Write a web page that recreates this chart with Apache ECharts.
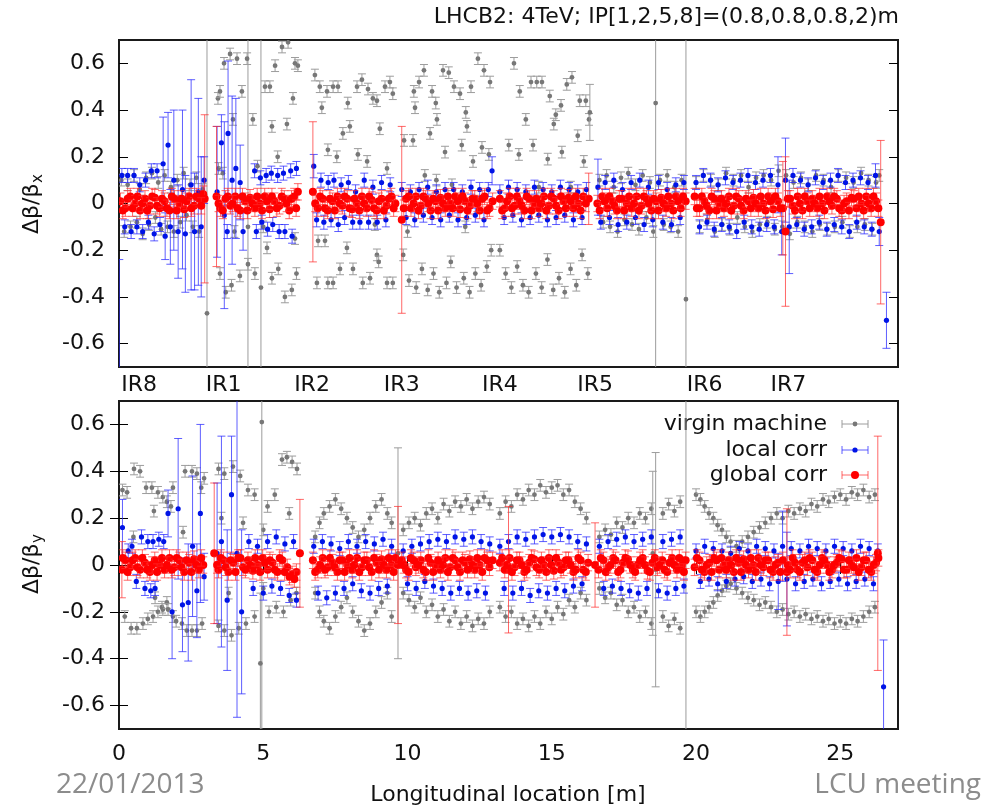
<!DOCTYPE html>
<html><head><meta charset="utf-8">
<script src="https://cdn.jsdelivr.net/npm/echarts@6/dist/echarts.min.js"></script>
<style>html,body{margin:0;padding:0;background:#fff}#c{width:985px;height:808px}</style>
</head><body><div id="c"></div>
<script>
// ---------- tick labels / annotations ----------
const yTicks = [-0.6, -0.4, -0.2, 0, 0.2, 0.4, 0.6];
const xTicks = [0, 5, 10, 15, 20, 25];
const irLabels = ['IR8', 'IR1', 'IR2', 'IR3', 'IR4', 'IR5', 'IR6', 'IR7'];
const irPos = [0.7, 3.63, 6.69, 9.8, 13.2, 16.5, 20.3, 23.2];
const legendNames = ['virgin machine', 'local corr', 'global corr'];
const titleText = 'LHCB2: 4TeV; IP[1,2,5,8]=(0.8,0.8,0.8,2)m';
// typical half-height of error bars per series
const errGray = 0.025, errBlue = 0.03, errRed = 0.035;

// ---------- data: [x (m), value, optional error] ----------
const topGray = [
[0.08,0.10],[0.18,-0.12],[0.3,0.08],[0.4,-0.10],[0.52,0.12],[0.62,-0.08],[0.72,0.06],[0.82,-0.13],[0.94,0.11],[1.04,-0.09],[1.14,0.13],[1.26,-0.06],[1.36,0.09],[1.46,-0.11],[1.58,0.12],[1.68,-0.10],[1.8,0.07],[1.9,-0.12],[2.02,0.10],[2.12,-0.08],[2.24,0.13],[2.34,-0.05],[2.46,0.08],[2.56,-0.10],[2.68,0.11],[2.78,-0.12],[2.9,0.06],
[3.05,-0.47,1.6],[4.47,-0.1,1.6],[4.92,-0.36,1.6],
[3.43,0.45],[3.5,0.48],[3.64,0.60],[3.85,0.64],[3.95,0.36],[4.09,0.62],[4.26,0.48],[4.44,0.62],[4.64,0.36],[5.06,0.50],[5.23,0.50],[5.3,0.33],[5.41,0.59],[5.65,0.67],[5.82,0.34],[5.86,0.69],[6.03,0.45],[6.1,0.60],[6.2,0.59],[3.45,0.15],[3.6,0.13],[4.8,0.16],[5.5,0.2],
[3.5,-0.30],[3.7,-0.38],[3.9,-0.35],[4.19,-0.31],[4.47,-0.26],[4.71,-0.30],[5.13,-0.19],[5.3,-0.32],[5.52,-0.28],[5.75,-0.40],[5.99,-0.37],[6.15,-0.3],[4.0,-0.12],[5.0,-0.1],[6.1,-0.15],
[6.79,0.55],[6.96,0.50],[7.03,0.41],[7.21,0.48],[7.42,0.50],[7.59,0.50],[7.76,0.30],[7.93,0.43],[8.0,0.33],[8.25,0.50],[8.42,0.53],[8.63,0.49],[8.8,0.45],[8.94,0.44],[9.04,0.32],[9.22,0.50],[9.39,0.52],[9.49,0.47],[7.24,0.23],[7.55,0.20],[8.28,0.21],[8.6,0.18],[9.29,0.15],
[6.86,-0.34],[6.9,-0.16],[7.14,-0.16],[7.24,-0.34],[7.42,-0.34],[7.66,-0.28],[7.9,-0.19],[8.11,-0.28],[8.45,-0.34],[8.7,-0.32],[8.87,-0.09],[8.94,-0.22],[9.0,-0.25],[9.29,-0.34],[9.49,-0.34],
[9.88,0.27],[10.19,0.27],[10.22,0.48],[10.26,0.41],[10.4,0.52],[10.57,0.57],[10.6,0.12],[10.78,0.30],[10.85,0.48],[10.98,0.43],[11.02,0.36],[11.23,0.57],[11.3,0.22],[11.43,0.56],[11.54,0.08],[11.61,0.50],[11.82,0.47],[11.88,0.25],[12.02,0.39],[12.06,0.33],[12.2,0.50],[12.27,0.18],[12.44,0.62],[12.58,0.24],[12.65,0.57],[12.82,0.21],[12.86,0.52],
[9.85,-0.22],[10.05,-0.33],[10.3,-0.36],[10.5,-0.28],[10.7,-0.37],[10.9,-0.30],[11.1,-0.38],[11.35,-0.34],[11.5,-0.25],[11.7,-0.36],[11.95,-0.32],[12.15,-0.38],[12.35,-0.30],[12.55,-0.35],[12.75,-0.27],[12.9,-0.20],[10.0,-0.12],[11.0,0.10],[12.0,-0.10],
[13.51,0.25],[13.69,0.60],[13.86,0.21],[13.89,0.48],[14.1,0.36],[14.28,0.52],[14.35,0.25],[14.48,0.52],[14.55,0.07],[14.66,0.52],[14.86,0.19],[14.93,0.46],[15.07,0.34],[15.14,0.38],[15.32,0.42],[15.35,0.22],[15.52,0.51],[15.66,0.07],[15.7,0.54],[15.9,0.29],[15.97,0.44],[16.11,0.18],[16.18,0.44],[16.29,0.36],[16.32,0.39,0.12],
[13.2,-0.20],[13.4,-0.30],[13.6,-0.36],[13.8,-0.27],[14.0,-0.35],[14.2,-0.38],[14.45,-0.30],[14.65,-0.36],[14.85,-0.24],[15.05,-0.37],[15.25,-0.32],[15.45,-0.38],[15.65,-0.28],[15.85,-0.35],[16.05,-0.22],[16.25,-0.30],
[16.65,0.10],[16.78,-0.08],[16.9,0.12],[17.02,-0.10],[17.15,0.07],[17.28,-0.12],[17.4,0.11],[17.52,-0.07],[17.65,0.13],[17.78,-0.09],[17.9,0.08],[18.02,-0.11],[18.15,0.12],[18.28,-0.06],[18.4,0.09],[18.52,-0.12],[18.75,0.1],[18.88,-0.09],[19.0,0.12],[19.12,-0.1],[19.25,0.07],[19.38,-0.12],[19.5,0.1],
[18.6,0.43,1.6],[19.65,-0.41,1.6],
[20.0,0.09],[20.13,-0.1],[20.26,0.12],[20.39,-0.07],[20.52,0.1],[20.65,-0.12],[20.78,0.08],[20.91,-0.09],[21.04,0.13],[21.17,-0.11],[21.3,0.1],[21.43,-0.06],[21.56,0.12],[21.69,-0.1],[21.82,0.07],[21.95,-0.12],[22.08,0.11],[22.21,-0.09],[22.34,0.12],[22.47,-0.08],[22.6,0.1],[22.73,-0.11],[22.86,0.14],[22.99,-0.1],[23.12,0.12],[23.25,-0.13],[23.38,0.09],[23.51,-0.08],[23.64,0.11],[23.77,-0.1],[23.9,0.08],[24.03,-0.12],[24.16,0.12],[24.29,-0.09],[24.42,0.1],[24.55,-0.11],[24.68,0.07],[24.81,-0.1],[24.94,0.12],[25.07,-0.08],[25.2,0.11],[25.33,-0.12],[25.46,0.09],[25.59,-0.1],[25.72,0.13],[25.85,-0.09],[25.98,0.1],[26.11,-0.11],[26.24,0.09],[26.35,0.12]
];
const topBlue = [
[0.01,-0.71,0.47],[0.1,0.12],[0.2,-0.1],[0.3,0.12],[0.42,-0.12],[0.52,0.12],[0.62,-0.1],[0.72,0.08],[0.82,-0.12],[0.92,0.1],[1.02,-0.08],[1.12,0.14],[1.22,-0.13],[1.32,0.14],[1.42,-0.09],[1.53,0.17,0.2],[1.6,-0.14,0.1],[1.7,0.25,0.14],[1.78,-0.1,0.16],[1.9,0.1,0.3],[2.05,-0.12,0.2],[2.2,0.06,0.34],[2.3,-0.13,0.25],[2.5,0.08,0.45],[2.62,-0.12,0.25],[2.75,0.05,0.4],[2.85,-0.1,0.3],[2.95,0.1,0.1],
[3.4,0.05,0.28],[3.55,0.26,0.12],[3.65,-0.05,0.4],[3.78,0.3,0.31],[3.92,0.1,0.36],[4.05,0.15,0.3],[4.2,0.09,0.16],[4.3,-0.12,0.08],[3.75,-0.12],
[4.7,0.14],[4.76,-0.12],[4.9,0.11],[4.95,-0.08],[5.1,0.12],[5.15,-0.11],[5.28,0.13],[5.33,-0.09],[5.5,0.12],[5.55,-0.12],[5.7,0.13],[5.75,-0.12],[5.95,0.14],[6.0,-0.14],[6.15,0.15],
[6.75,0.16,0.05],[6.85,-0.07],[7.0,0.1],[7.1,-0.08],[7.25,0.09],[7.35,-0.07],[7.45,0.1],[7.6,-0.09],[7.7,0.08],[7.82,-0.06],[7.95,0.09],[8.1,-0.08],[8.2,0.05],[8.35,-0.08],[8.5,0.1],[8.65,-0.08],[8.8,0.07],[8.95,-0.08],[9.1,0.09],[9.25,-0.07],[9.4,0.08],
[9.8,0.06],[9.95,-0.06],[10.1,0.05],[10.25,-0.07],[10.4,0.06],[10.55,-0.05],[10.7,0.07],[10.85,-0.06],[11.0,0.05],[11.15,-0.07],[11.3,0.06],[11.45,-0.05],[11.6,0.06],[11.75,-0.07],[11.9,0.05],[12.05,-0.06],[12.2,0.07],[12.35,-0.05],[12.5,0.06],[12.65,-0.07],[12.8,0.06],[12.93,0.14,0.06],
[13.2,0.05],[13.35,-0.06],[13.5,0.07],[13.65,-0.05],[13.8,0.06],[13.95,-0.07],[14.1,0.05],[14.25,-0.06],[14.4,0.07],[14.55,-0.05],[14.7,0.06],[14.85,-0.07],[15.0,0.05],[15.15,-0.06],[15.3,0.07],[15.45,-0.05],[15.6,0.06],[15.75,-0.07],[15.9,0.05],[16.05,-0.06],[16.2,0.06],
[16.6,0.07,0.12],[16.7,-0.08],[16.85,0.09],[17.0,-0.06],[17.15,0.1],[17.3,-0.09],[17.45,0.06],[17.6,-0.08],[17.75,0.09],[17.9,-0.06],[18.05,0.1],[18.2,-0.09],[18.35,0.07],[18.5,-0.07],[18.7,0.09],[18.85,-0.08],[19.0,0.06],[19.15,-0.09],[19.3,0.08],[19.45,-0.06],[19.58,0.09],
[20.0,0.09],[20.12,-0.1],[20.25,0.12],[20.38,-0.08],[20.5,0.1],[20.63,-0.11],[20.76,0.08],[20.89,-0.09],[21.02,0.11],[21.15,-0.1],[21.28,0.09],[21.41,-0.12],[21.54,0.1],[21.67,-0.08],[21.8,0.12],[21.93,-0.1],[22.06,0.09],[22.19,-0.11],[22.32,0.1],[22.45,-0.09],[22.58,0.12],[22.71,-0.1],[22.84,0.08,0.12],[22.97,-0.12,0.1],[23.1,0.1,0.18],[23.23,-0.1,0.2],[23.36,0.12],[23.49,-0.09],[23.62,0.1],[23.75,-0.11],[23.88,0.08],[24.01,-0.1],[24.14,0.11],[24.27,-0.08],[24.4,0.09],[24.53,-0.11],[24.66,0.1],[24.79,-0.09],[24.92,0.12],[25.05,-0.1],[25.18,0.09],[25.31,-0.12],[25.44,0.1],[25.57,-0.08],[25.7,0.11],[25.83,-0.1],[25.96,0.09],[26.09,-0.11],[26.22,0.12,0.05],[26.35,-0.12,0.06],[26.6,-0.5,0.12]
];
const topRed = [
[0.05,0.01],[0.22,-0.02],[0.39,0.03],[0.56,0.0],[0.73,-0.03],[0.9,0.02],[1.07,-0.01],[1.24,0.025],[1.41,-0.02],[1.58,0.01],[1.75,-0.03],[1.92,0.02],[2.09,0.0],[2.26,-0.025],[2.43,0.03],[2.6,-0.01],[2.77,0.02],[2.92,0.04],[2.97,0.02,0.36],
[3.38,0.03,0.3],[3.52,-0.02],[3.69,0.02],[3.86,-0.01],[4.03,0.03],[4.2,-0.03],[4.37,0.01],[4.54,0.025],[4.71,-0.02],[4.88,0.0],[5.05,0.03],[5.22,-0.025],[5.39,0.01],[5.56,-0.01],[5.73,0.02],[5.9,-0.03],[6.07,0.03],[6.2,0.05],
[6.72,0.05,0.3],[6.89,-0.02],[7.06,0.02],[7.23,-0.03],[7.4,0.01],[7.57,0.03],[7.74,-0.01],[7.91,0.02],[8.08,-0.025],[8.25,0.0],[8.42,0.03],[8.59,-0.02],[8.76,0.015],[8.93,-0.03],[9.1,0.02],[9.27,-0.01],[9.44,0.03],[9.58,0.0],
[9.8,-0.07,0.4],[9.95,0.02],[10.12,-0.02],[10.29,0.03],[10.46,-0.01],[10.63,0.02],[10.8,-0.03],[10.97,0.01],[11.14,0.025],[11.31,-0.02],[11.48,0.0],[11.65,0.03],[11.82,-0.025],[11.99,0.01],[12.16,-0.01],[12.33,0.02],[12.5,-0.03],[12.67,0.03],[12.84,-0.02],[12.95,0.01],
[13.2,0.02],[13.37,-0.02],[13.54,0.03],[13.71,-0.01],[13.88,0.01],[14.05,-0.03],[14.22,0.02],[14.39,0.0],[14.56,-0.02],[14.73,0.03],[14.9,-0.01],[15.07,0.02],[15.24,-0.03],[15.41,0.01],[15.58,0.025],[15.75,-0.02],[15.92,0.0],[16.09,0.03],[16.28,0.02,0.11],
[16.58,0.0],[16.75,0.03],[16.92,-0.02],[17.09,0.01],[17.26,-0.03],[17.43,0.02],[17.6,0.0],[17.77,-0.02],[17.94,0.03],[18.11,-0.01],[18.28,0.02],[18.45,-0.03],[18.62,0.01],[18.79,0.025],[18.96,-0.02],[19.13,0.0],[19.3,0.03],[19.47,-0.02],[19.64,0.01],
[19.95,0.03],[20.12,-0.02],[20.29,0.01],[20.46,-0.03],[20.63,0.02],[20.8,0.0],[20.97,-0.02],[21.14,0.03],[21.31,-0.01],[21.48,0.02],[21.65,-0.03],[21.82,0.01],[21.99,0.025],[22.16,-0.02],[22.33,0.0],[22.5,0.03],[22.67,-0.025],[22.84,0.01],[23.01,-0.02,0.2],[23.1,-0.12,0.32],[23.18,0.02],[23.35,-0.01],[23.52,0.03],[23.69,-0.03],[23.86,0.01],[24.03,0.02],[24.2,-0.02],[24.37,0.0],[24.54,0.03],[24.71,-0.01],[24.88,0.02],[25.05,-0.03],[25.22,0.01],[25.39,0.025],[25.56,-0.02],[25.73,0.0],[25.9,0.03],[26.07,-0.02],[26.24,0.01],[26.4,-0.08,0.35]
];
const topRedFill = [
[0.13,-0.03],[0.3,0.02],[0.47,-0.02],[0.64,0.03],[0.81,0.0],[0.98,-0.03],[1.15,0.03],[1.32,-0.01],[1.49,0.02],[1.66,-0.02],[1.83,0.03],[2.0,-0.03],[2.17,0.02],[2.34,0.01],[2.51,-0.02],[2.68,0.03],[2.85,-0.01],
[3.45,0.0],[3.6,-0.03],[3.77,0.03],[3.94,0.0],[4.11,-0.02],[4.28,0.03],[4.45,-0.03],[4.62,0.0],[4.79,0.03],[4.96,-0.03],[5.13,0.01],[5.3,0.03],[5.47,-0.02],[5.64,0.03],[5.81,0.0],[5.98,0.02],[6.14,-0.02],
[6.8,0.0],[6.97,0.03],[7.14,-0.02],[7.31,0.02],[7.48,-0.03],[7.65,0.0],[7.82,0.03],[7.99,-0.02],[8.16,0.02],[8.33,-0.03],[8.5,0.0],[8.67,0.03],[8.84,-0.02],[9.01,0.01],[9.18,-0.03],[9.35,0.02],[9.52,-0.02],
[9.87,-0.02],[10.04,0.03],[10.21,0.0],[10.38,-0.03],[10.55,0.03],[10.72,0.0],[10.89,0.02],[11.06,-0.03],[11.23,0.0],[11.4,0.03],[11.57,-0.02],[11.74,0.01],[11.91,0.03],[12.08,-0.03],[12.25,0.02],[12.42,0.0],[12.59,0.02],[12.76,-0.03],
[13.28,-0.03],[13.45,0.01],[13.62,-0.02],[13.79,0.03],[13.96,-0.01],[14.13,0.03],[14.3,-0.03],[14.47,0.02],[14.64,0.0],[14.81,-0.03],[14.98,0.03],[15.15,-0.01],[15.32,0.03],[15.49,-0.02],[15.66,0.01],[15.83,0.03],[16.0,-0.03],[16.18,0.0],
[16.66,-0.03],[16.83,0.01],[17.0,0.03],[17.17,-0.01],[17.34,0.02],[17.51,-0.03],[17.68,0.03],[17.85,0.0],[18.02,-0.03],[18.19,0.03],[18.36,0.0],[18.53,0.02],[18.7,-0.03],[18.87,0.0],[19.04,0.03],[19.21,-0.03],[19.38,0.01],[19.55,0.03],
[20.03,-0.02],[20.2,0.03],[20.37,-0.01],[20.54,0.03],[20.71,-0.03],[20.88,0.02],[21.05,0.0],[21.22,-0.03],[21.39,0.03],[21.56,-0.01],[21.73,0.02],[21.9,-0.02],[22.07,0.0],[22.24,0.03],[22.41,-0.03],[22.58,0.01],[22.75,0.03],[22.92,-0.02],[23.26,0.02],[23.43,-0.03],[23.6,0.0],[23.77,0.03],[23.94,-0.02],[24.11,0.0],[24.28,0.03],[24.45,-0.03],[24.62,0.01],[24.79,0.03],[24.96,-0.02],[25.13,0.0],[25.3,-0.03],[25.47,0.02],[25.64,0.03],[25.81,-0.03],[25.98,0.0],[26.15,0.03],[26.32,-0.02]
];
const botGray = [
[0.12,0.32],[0.28,0.31],[0.52,0.41],[0.73,0.40],[0.94,0.33],[1.14,0.33],[1.21,0.23],[1.35,0.31],[1.52,0.29],[1.66,0.27],[1.8,0.25],[1.87,0.33],[2.22,0.14],[2.29,0.40],[2.53,0.40],[2.7,0.39],[0.5,0.12],[2.85,0.33],[2.95,0.37],
[0.2,-0.22],[0.42,-0.27],[0.62,-0.27],[0.83,-0.25],[1.0,-0.23],[1.18,-0.22],[1.25,-0.14],[1.35,-0.20],[1.49,-0.18],[1.52,-0.19],[1.66,-0.16],[1.7,-0.19],[1.87,-0.22],[1.98,-0.24],[2.18,-0.25],[2.35,-0.28],[2.53,-0.28],[2.7,-0.28],[2.88,-0.25],
[3.45,0.41],[3.65,0.39],[3.95,0.42],[4.2,0.38],[4.47,0.32],[4.7,0.3],[5.15,0.25],[5.4,0.3],[5.65,0.45],[5.82,0.46],[6.0,0.44],[6.17,0.41],[3.55,0.2],[4.3,0.18],[5.0,0.15],[5.9,0.22],
[4.95,0.61,1.6],[4.9,-0.42,0.3],
[3.45,-0.26],[3.65,-0.28],[3.9,-0.30],[4.15,-0.27],[4.4,-0.25],[4.7,-0.22],[5.2,-0.20],[5.45,-0.18],[5.7,-0.20],[5.95,-0.15],[6.15,-0.12],[3.8,-0.12],[5.0,-0.1],
[6.8,0.12],[6.95,0.18],[7.1,0.22],[7.3,0.25],[7.5,0.28],[7.7,0.24],[7.9,0.2],[8.1,0.16],[8.3,0.12],[8.5,0.15],[8.7,0.2],[8.9,0.25],[9.1,0.28],[9.3,0.22],[9.45,0.18],
[6.8,-0.12],[6.95,-0.2],[7.1,-0.24],[7.3,-0.27],[7.5,-0.22],[7.7,-0.18],[7.9,-0.14],[8.1,-0.2],[8.3,-0.24],[8.5,-0.28],[8.7,-0.25],[8.9,-0.2],[9.1,-0.16],[9.3,-0.12],[9.45,-0.22],
[9.67,0.05,0.45],
[9.85,0.15],[10.05,0.18],[10.25,0.2],[10.45,0.17],[10.65,0.22],[10.85,0.24],[11.05,0.2],[11.25,0.26],[11.45,0.23],[11.65,0.27],[11.85,0.25],[12.05,0.28],[12.25,0.24],[12.45,0.27],[12.65,0.29],[12.85,0.26],
[9.85,-0.12],[10.05,-0.15],[10.25,-0.18],[10.45,-0.14],[10.65,-0.2],[10.85,-0.17],[11.05,-0.22],[11.25,-0.19],[11.45,-0.24],[11.65,-0.2],[11.85,-0.25],[12.05,-0.22],[12.25,-0.26],[12.45,-0.23],[12.65,-0.25],[12.85,-0.2],
[13.2,0.22],[13.4,0.27],[13.6,0.25],[13.8,0.3],[14.0,0.28],[14.2,0.32],[14.4,0.3],[14.6,0.34],[14.8,0.31],[15.0,0.33],[15.2,0.34],[15.4,0.3],[15.6,0.32],[15.8,0.27],[16.0,0.24],[16.2,0.2],
[13.2,-0.18],[13.4,-0.22],[13.6,-0.2],[13.8,-0.25],[14.0,-0.23],[14.2,-0.26],[14.4,-0.22],[14.6,-0.25],[14.8,-0.2],[15.0,-0.23],[15.2,-0.18],[15.4,-0.21],[15.6,-0.15],[15.8,-0.18],[16.0,-0.12],[16.2,-0.15],
[16.65,0.12],[16.85,0.15],[17.05,0.13],[17.25,0.18],[17.45,0.16],[17.65,0.2],[17.85,0.18],[18.05,0.22],[18.25,0.2],[18.45,0.24],[18.85,0.22],[19.05,0.26],[19.25,0.23],[19.45,0.27],
[16.65,-0.1],[16.85,-0.14],[17.05,-0.12],[17.25,-0.17],[17.45,-0.15],[17.65,-0.2],[17.85,-0.18],[18.05,-0.22],[18.25,-0.2],[18.45,-0.25],[18.85,-0.22],[19.05,-0.26],[19.25,-0.23],[19.45,-0.27],
[18.5,0.05,0.35],[18.6,-0.02,0.5],[19.65,-0.72,1.5],
[20.0,0.3],[20.15,0.28],[20.3,0.25],[20.45,0.22],[20.6,0.2],[20.75,0.17],[20.9,0.15],[21.05,0.12],[21.2,0.1],[21.4,0.08],[21.6,0.1],[21.8,0.12],[22.0,0.14],[22.2,0.16],[22.4,0.18],[22.6,0.2],[22.8,0.22],[23.0,0.2],[23.2,0.23],[23.4,0.22],[23.6,0.24],[23.8,0.23],[24.0,0.26],[24.2,0.25],[24.4,0.28],[24.6,0.27],[24.8,0.29],[25.0,0.3],[25.2,0.28],[25.4,0.31],[25.6,0.3],[25.8,0.32],[26.0,0.29],[26.2,0.3],
[20.0,-0.2],[20.15,-0.22],[20.3,-0.2],[20.45,-0.18],[20.6,-0.16],[20.75,-0.13],[20.9,-0.11],[21.05,-0.09],[21.2,-0.08],[21.4,-0.1],[21.6,-0.12],[21.8,-0.14],[22.0,-0.15],[22.2,-0.17],[22.4,-0.16],[22.6,-0.18],[22.8,-0.2],[23.0,-0.19],[23.2,-0.21],[23.4,-0.2],[23.6,-0.22],[23.8,-0.21],[24.0,-0.23],[24.2,-0.22],[24.4,-0.24],[24.6,-0.23],[24.8,-0.25],[25.0,-0.24],[25.2,-0.25],[25.4,-0.23],[25.6,-0.24],[25.8,-0.22],[26.0,-0.2],[26.2,-0.18]
];
const botBlue = [
[0.12,0.16,0.12],[0.32,0.06],[0.45,0.08],[0.6,-0.07],[0.78,0.12],[0.9,-0.1],[1.0,0.1],[1.1,-0.11],[1.18,0.1],[1.25,-0.1],[1.38,0.11],[1.55,0.1],[1.7,0.22,0.1],[1.84,-0.2,0.2],[2.05,0.24,0.3],[2.2,-0.17,0.2],[2.4,-0.16,0.25],[2.55,0.08,0.3],[2.7,-0.11,0.2],[2.82,0.22,0.38],[2.95,-0.05,0.1],
[3.4,0.05,0.3],[3.55,0.1,0.45],[3.75,-0.15,0.3],[3.9,0.3,0.25],[4.09,0.05,0.7],[4.25,-0.2,0.35],
[4.5,0.1],[4.65,-0.1],[4.8,0.08],[5.0,-0.12],[5.15,0.1],[5.3,-0.09],[5.45,0.12],[5.6,-0.1],[5.75,0.09],[5.9,-0.13],[6.05,0.1],[6.15,-0.15],
[6.75,0.08],[6.9,-0.12],[7.05,0.1],[7.2,-0.14],[7.35,0.09],[7.5,-0.12],[7.65,0.07],[7.8,-0.1],[7.95,0.1],[8.1,-0.08],[8.25,0.08],[8.4,-0.11],[8.55,0.1],[8.7,-0.12],[8.85,0.09],[9.0,-0.1],[9.15,0.11],[9.3,-0.09],[9.45,0.08],
[9.85,0.06],[10.0,-0.08],[10.15,0.08],[10.3,-0.1],[10.45,0.09],[10.6,-0.07],[10.75,0.1],[10.9,-0.09],[11.05,0.11],[11.2,-0.1],[11.35,0.1],[11.5,-0.12],[11.65,0.12],[11.8,-0.1],[11.95,0.11],[12.1,-0.12],[12.25,0.12],[12.4,-0.11],[12.55,0.1],[12.7,-0.12],[12.85,0.09],
[13.2,0.08],[13.35,-0.1],[13.5,0.1],[13.65,-0.12],[13.8,0.12],[13.95,-0.1],[14.1,0.11],[14.25,-0.13],[14.4,0.12],[14.55,-0.11],[14.7,0.13],[14.85,-0.12],[15.0,0.12],[15.15,-0.1],[15.3,0.13],[15.45,-0.11],[15.6,0.12],[15.75,-0.09],[15.9,0.1],[16.05,-0.08],[16.2,0.09],
[16.65,0.08],[16.8,-0.1],[16.95,0.1],[17.1,-0.09],[17.25,0.11],[17.4,-0.1],[17.55,0.12],[17.7,-0.11],[17.85,0.1],[18.0,-0.12],[18.15,0.11],[18.3,-0.1],[18.45,0.12],[18.7,-0.11],[18.85,0.1],[19.0,-0.12],[19.15,0.11],[19.3,-0.1],[19.45,0.12],[19.58,-0.09],
[20.0,0.06],[20.15,-0.07],[20.3,0.08],[20.45,-0.06],[20.6,0.07],[20.75,-0.08],[20.9,0.06],[21.05,-0.07],[21.2,0.05],[21.35,-0.06],[21.5,0.07],[21.65,-0.05],[21.8,0.06],[21.95,-0.07],[22.1,0.08],[22.25,-0.06],[22.4,0.07],[22.55,-0.08],[22.7,0.06],[22.85,-0.07,0.12],[23.0,0.08,0.15],[23.15,-0.06,0.2],[23.3,0.07],[23.45,-0.08],[23.6,0.06],[23.75,-0.07],[23.9,0.08],[24.05,-0.06],[24.2,0.07],[24.35,-0.08],[24.5,0.06],[24.65,-0.07],[24.8,0.08],[24.95,-0.06],[25.1,0.07],[25.25,-0.08],[25.4,0.06],[25.55,-0.07],[25.7,0.08],[25.85,-0.06],[26.0,0.07],[26.15,-0.08],[26.3,0.06],[26.5,-0.52,0.2]
];
const botRed = [
[0.1,-0.02,0.12],[0.22,0.02],[0.39,-0.01],[0.56,0.03],[0.73,-0.02],[0.9,0.01],[1.07,-0.03],[1.24,0.02],[1.41,0.0],[1.58,-0.02],[1.75,0.03],[1.92,-0.01],[2.09,0.02],[2.26,-0.03],[2.43,0.01],[2.6,0.025],[2.77,-0.02],[2.92,0.0],
[3.3,0.05,0.3],[3.45,-0.02],[3.62,0.02],[3.79,-0.03],[3.96,0.01],[4.13,0.03],[4.3,-0.01],[4.47,0.02],[4.64,-0.025],[4.81,0.0],[4.98,0.03],[5.15,-0.02],[5.32,0.01],[5.49,-0.03],[5.66,0.02],[5.83,-0.01],[6.0,-0.04],[6.15,-0.03],[6.27,0.05,0.23],
[6.72,0.02],[6.89,-0.02],[7.06,0.03],[7.23,-0.01],[7.4,0.01],[7.57,-0.03],[7.74,0.02],[7.91,0.0],[8.08,-0.02],[8.25,0.03],[8.42,-0.01],[8.59,0.02],[8.76,-0.03],[8.93,0.01],[9.1,0.025],[9.27,-0.02],[9.44,0.0],[9.58,0.03],[9.67,0.0,0.25],
[9.8,0.02],[9.95,-0.02],[10.12,0.03],[10.29,-0.01],[10.46,0.02],[10.63,-0.03],[10.8,0.01],[10.97,0.0],[11.14,-0.02],[11.31,0.03],[11.48,-0.01],[11.65,0.02],[11.82,-0.03],[11.99,0.01],[12.16,0.025],[12.33,-0.02],[12.5,0.0],[12.67,0.03],[12.84,-0.01],[12.95,0.02],
[13.2,0.01],[13.37,-0.02],[13.5,-0.02,0.27],[13.54,0.03],[13.71,-0.01],[13.88,0.02],[14.05,-0.03],[14.22,0.01],[14.39,0.025],[14.56,-0.02],[14.73,0.0],[14.9,0.03],[15.07,-0.025],[15.24,0.01],[15.41,-0.01],[15.58,0.02],[15.75,-0.03],[15.92,0.03],[16.09,-0.02],[16.26,0.01],
[16.5,0.0,0.18],[16.62,-0.02],[16.79,0.02],[16.96,-0.01],[17.13,0.03],[17.3,-0.03],[17.47,0.01],[17.64,0.025],[17.81,-0.02],[17.98,0.0],[18.15,0.03],[18.32,-0.025],[18.49,0.01],[18.66,-0.01],[18.83,0.02],[19.0,-0.03],[19.17,0.03],[19.34,-0.02],[19.51,0.0],[19.64,0.02],
[19.95,-0.01],[20.12,0.02],[20.29,-0.03],[20.46,0.01],[20.63,0.03],[20.8,-0.02],[20.97,0.0],[21.14,0.02],[21.31,-0.03],[21.48,0.01],[21.65,0.025],[21.82,-0.02],[21.99,0.0],[22.16,0.03],[22.33,-0.01],[22.5,0.02],[22.67,-0.03],[22.84,0.01],[23.01,0.02],[23.15,-0.03,0.27],[23.18,0.0],[23.35,0.03],[23.52,-0.02],[23.69,0.01],[23.86,-0.01],[24.03,0.02],[24.2,-0.03],[24.37,0.03],[24.54,0.0],[24.71,-0.02],[24.88,0.01],[25.05,0.025],[25.22,-0.02],[25.39,0.0],[25.56,0.03],[25.73,-0.01],[25.9,0.02],[26.07,-0.03],[26.24,0.01],[26.3,0.05,0.5]
];
const botRedFill = [
[0.13,0.03],[0.3,-0.03],[0.47,0.02],[0.64,-0.01],[0.81,0.03],[0.98,-0.02],[1.15,0.0],[1.32,-0.03],[1.49,0.03],[1.66,0.0],[1.83,-0.02],[2.0,0.03],[2.17,-0.01],[2.34,0.02],[2.51,-0.03],[2.68,0.0],[2.85,0.03],
[3.4,0.0],[3.53,0.03],[3.7,-0.01],[3.87,0.02],[4.04,-0.03],[4.21,0.03],[4.38,-0.02],[4.55,0.0],[4.72,0.03],[4.89,-0.03],[5.06,0.01],[5.23,0.02],[5.4,-0.02],[5.57,0.03],[5.74,-0.03],[5.91,-0.05],[6.08,-0.06],
[6.8,-0.03],[6.97,0.0],[7.14,-0.02],[7.31,0.03],[7.48,-0.01],[7.65,0.02],[7.82,-0.03],[7.99,0.03],[8.16,0.0],[8.33,-0.03],[8.5,0.02],[8.67,-0.01],[8.84,0.03],[9.01,-0.02],[9.18,0.0],[9.35,0.03],[9.52,-0.03],
[9.87,0.0],[10.04,-0.03],[10.21,0.02],[10.38,0.0],[10.55,-0.02],[10.72,0.03],[10.89,-0.03],[11.06,0.02],[11.23,0.0],[11.4,-0.03],[11.57,0.03],[11.74,-0.01],[11.91,0.02],[12.08,-0.02],[12.25,0.0],[12.42,0.03],[12.59,-0.03],[12.76,0.02],
[13.28,0.03],[13.45,0.0],[13.62,-0.03],[13.79,0.02],[13.96,0.0],[14.13,-0.02],[14.3,0.03],[14.47,-0.01],[14.64,0.02],[14.81,-0.03],[14.98,0.0],[15.15,0.03],[15.32,-0.02],[15.49,0.02],[15.66,0.0],[15.83,-0.02],[16.0,0.02],[16.18,-0.03],
[16.7,0.03],[16.87,-0.03],[17.04,0.0],[17.21,0.02],[17.38,-0.02],[17.55,0.03],[17.72,0.0],[17.89,-0.03],[18.06,0.02],[18.23,0.0],[18.4,-0.03],[18.57,0.03],[18.74,0.0],[18.91,-0.02],[19.08,0.01],[19.25,0.0],[19.42,0.03],[19.58,-0.03],
[20.03,0.03],[20.2,-0.02],[20.37,0.0],[20.54,-0.03],[20.71,0.02],[20.88,0.03],[21.05,-0.02],[21.22,0.0],[21.39,0.03],[21.56,-0.03],[21.73,0.0],[21.9,0.03],[22.07,-0.03],[22.24,0.0],[22.41,0.02],[22.58,-0.02],[22.75,0.0],[22.92,-0.03],[23.26,-0.02],[23.43,0.01],[23.6,-0.03],[23.77,0.02],[23.94,0.03],[24.11,-0.02],[24.28,0.0],[24.45,0.02],[24.62,-0.03],[24.79,0.0],[24.96,0.03],[25.13,-0.02],[25.3,0.02],[25.47,-0.01],[25.64,-0.03],[25.81,0.02],[25.98,-0.02],[26.15,0.0],[26.32,0.03]
];

// ---------- chart ----------
const FONT = 'DejaVu Sans';
const chart = echarts.init(document.getElementById('c'), null, {renderer: 'canvas'});
function withErr(arr, def) { return arr.map(d => [d[0], d[1], d.length > 2 ? d[2] : def]); }
function makeRender(lineColor, ptColor, r, capW) {
  return function (params, api) {
    const x = api.value(0), y = api.value(1), e = api.value(2);
    const c = api.coord([x, y]), t = api.coord([x, y + e]), b = api.coord([x, y - e]);
    const cs = params.coordSys;
    const ls = {stroke: lineColor, lineWidth: 1};
    return {
      type: 'group',
      clipPath: {type: 'rect', shape: {x: cs.x, y: cs.y, width: cs.width, height: cs.height}},
      children: [
        {type: 'line', shape: {x1: c[0], y1: t[1], x2: c[0], y2: b[1]}, style: ls},
        {type: 'line', shape: {x1: c[0] - capW, y1: t[1], x2: c[0] + capW, y2: t[1]}, style: ls},
        {type: 'line', shape: {x1: c[0] - capW, y1: b[1], x2: c[0] + capW, y2: b[1]}, style: ls},
        {type: 'circle', shape: {cx: c[0], cy: c[1], r: r}, style: {fill: ptColor}}
      ]
    };
  };
}
const styles = {
  gray: ['#9c9c9c', '#777777', 2.4, 4],
  blue: ['rgba(40,40,255,0.75)', '#0014e6', 2.6, 4],
  red:  ['rgba(255,40,40,0.7)', '#ff0000', 4, 4]
};
function series(name, data, def, st, xi, yi, z) {
  return {type: 'custom', name: name, xAxisIndex: xi, yAxisIndex: yi, z: z, clip: true,
    renderItem: makeRender(st[0], st[1], st[2], st[3]), data: withErr(data, def),
    encode: {x: 0, y: 1}, silent: true, animation: false};
}
const tickStyle = {inside: true, length: 9, lineStyle: {color: '#000', width: 1}};
const labelStyle = {fontFamily: FONT, fontSize: 22, color: '#111'};
function yAx(gi, pos, showLabel) {
  return {type: 'value', gridIndex: gi, position: pos, min: -0.7, max: 0.7,
    axisLine: {show: false}, splitLine: {show: false},
    axisTick: Object.assign({customValues: yTicks}, tickStyle),
    axisLabel: Object.assign({show: showLabel, customValues: yTicks, margin: 14,
      formatter: v => String(Math.round(v * 10) / 10)}, labelStyle)};
}
function xAx(gi, pos, showTicks, showLabel) {
  return {type: 'value', gridIndex: gi, position: pos, min: 0, max: 27,
    axisLine: {show: false}, splitLine: {show: false},
    axisTick: Object.assign({show: showTicks, customValues: xTicks}, tickStyle),
    axisLabel: Object.assign({show: showLabel, customValues: xTicks, margin: 14}, labelStyle)};
}
const option = {
  animation: false,
  backgroundColor: '#fff',
  grid: [
    {left: 119, top: 40, width: 779, height: 327, show: true, borderColor: '#1a1a1a', borderWidth: 2, backgroundColor: 'transparent'},
    {left: 119, top: 401, width: 779, height: 328, show: true, borderColor: '#1a1a1a', borderWidth: 2, backgroundColor: 'transparent'}
  ],
  xAxis: [xAx(0, 'bottom', false, false), xAx(1, 'bottom', true, true), xAx(1, 'top', true, false)],
  yAxis: [yAx(0, 'left', true), yAx(0, 'right', false), yAx(1, 'left', true), yAx(1, 'right', false)],
  series: [
    series(legendNames[0], topGray, errGray, styles.gray, 0, 0, 2),
    series(legendNames[1], topBlue, errBlue, styles.blue, 0, 0, 3),
    series(legendNames[2], topRed.concat(topRedFill), errRed, styles.red, 0, 0, 4),
    series(legendNames[0], botGray, errGray, styles.gray, 1, 2, 2),
    series(legendNames[1], botBlue, errBlue, styles.blue, 1, 2, 3),
    series(legendNames[2], botRed.concat(botRedFill), errRed, styles.red, 1, 2, 4)
  ]
};
chart.setOption(option);

// ---------- annotations ----------
const g = [];
g.push({type: 'text', right: 86, top: 6, style: {text: titleText, font: '22px ' + FONT, fill: '#111'}});
irLabels.forEach((t, i) => {
  const px = chart.convertToPixel({xAxisIndex: 1}, irPos[i]);
  g.push({type: 'text', x: px, y: 385, style: {text: t, font: '22px ' + FONT, fill: '#111', align: 'center', verticalAlign: 'middle'}});
});
function yName(cy, sub) {
  return {type: 'group', x: 32, y: cy, rotation: Math.PI / 2, children: [
    {type: 'text', x: -31, y: 0, style: {text: 'Δβ/β', font: '22px ' + FONT, fill: '#111', align: 'left', verticalAlign: 'middle'}},
    {type: 'text', x: 20, y: 6, style: {text: sub, font: '15px ' + FONT, fill: '#111', align: 'left', verticalAlign: 'middle'}}
  ]};
}
g.push(yName(203, 'x'));
g.push(yName(563, 'y'));
g.push({type: 'text', x: 508, y: 795, style: {text: 'Longitudinal location [m]', font: '22px ' + FONT, fill: '#111', align: 'center', verticalAlign: 'middle'}});
g.push({type: 'text', x: 56, y: 785, style: {text: '22/01/2013', font: '28px "Open Sans"', fill: '#8c8c8c', align: 'left', verticalAlign: 'middle'}});
g.push({type: 'text', x: 981, y: 785, style: {text: 'LCU meeting', font: '28px "Open Sans"', fill: '#8c8c8c', align: 'right', verticalAlign: 'middle'}});
// legend
const legY = [424, 450, 475];
const legSt = [styles.gray, styles.blue, styles.red];
legendNames.forEach((n, i) => {
  const y = legY[i], st = legSt[i];
  g.push({type: 'text', x: 827, y: y, style: {text: n, font: '22px ' + FONT, fill: '#111', align: 'right', verticalAlign: 'middle'}});
  const ls = {stroke: st[0], lineWidth: 1};
  g.push({type: 'line', shape: {x1: 842, y1: y, x2: 868, y2: y}, style: ls});
  g.push({type: 'line', shape: {x1: 842, y1: y - 4, x2: 842, y2: y + 4}, style: ls});
  g.push({type: 'line', shape: {x1: 868, y1: y - 4, x2: 868, y2: y + 4}, style: ls});
  g.push({type: 'circle', shape: {cx: 855, cy: y, r: st[2]}, style: {fill: st[1]}});
});
chart.setOption({graphic: g});
</script>
</body></html>
